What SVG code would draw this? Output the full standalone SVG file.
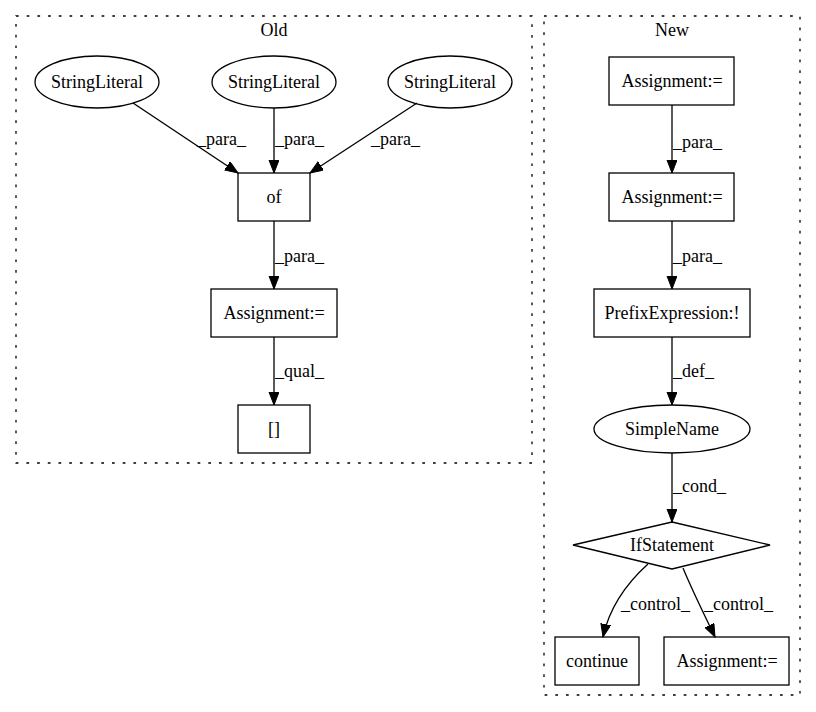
<svg xmlns="http://www.w3.org/2000/svg" width="816" height="712" viewBox="0 0 816 712">
<style>
text{font-family:"Liberation Serif","Times New Roman",serif;font-size:18px;fill:#000}
.n{fill:none;stroke:#000;stroke-width:1.3}
.c{fill:none;stroke:#000;stroke-width:1.3;stroke-dasharray:2.7,8}
.e{fill:none;stroke:#000;stroke-width:1.3;marker-end:url(#a)}
.m{text-anchor:middle}
</style>
<defs>
<marker id="a" markerUnits="userSpaceOnUse" markerWidth="14" markerHeight="12" refX="13" refY="5" orient="auto">
<path d="M0,0 L13,5 L0,10 z" fill="#000" stroke="#000" stroke-width="1"/>
</marker>
</defs>
<rect width="816" height="712" fill="#fff"/>
<g id="cluster_old">
<rect class="c" x="16" y="16" width="516" height="447"/>
<text class="m" x="274" y="36">Old</text>
</g>
<g id="cluster_new">
<rect class="c" x="544" y="16" width="256" height="679"/>
<text class="m" x="672" y="36">New</text>
</g>
<g id="edges">
<path class="e" d="M133,103 L238,173"/>
<text x="197" y="145">_para_</text>
<path class="e" d="M274,108 L274,173"/>
<text x="275" y="145">_para_</text>
<path class="e" d="M417,103 L310,173"/>
<text x="371" y="145">_para_</text>
<path class="e" d="M274,221 L274,289"/>
<text x="275" y="262">_para_</text>
<path class="e" d="M274,337 L274,405"/>
<text x="275" y="377">_qual_</text>
<path class="e" d="M672,105 L672,173"/>
<text x="673" y="148">_para_</text>
<path class="e" d="M672,221 L672,289"/>
<text x="673" y="262">_para_</text>
<path class="e" d="M672,337 L672,405"/>
<text x="673" y="377">_def_</text>
<path class="e" d="M672,453 L672,522"/>
<text x="673" y="492">_cond_</text>
<path class="e" d="M648,564 C628,582 610,605 603,637"/>
<text x="621" y="610">_control_</text>
<path class="e" d="M683,568 C692,590 703,612 715,637"/>
<text x="704" y="610">_control_</text>
</g>
<g id="n1"><ellipse class="n" cx="97" cy="82" rx="62" ry="26"/><text class="m" x="97" y="88">StringLiteral</text></g>
<g id="n2"><ellipse class="n" cx="274" cy="82" rx="62" ry="26"/><text class="m" x="274" y="88">StringLiteral</text></g>
<g id="n3"><ellipse class="n" cx="450" cy="82" rx="62" ry="26"/><text class="m" x="450" y="88">StringLiteral</text></g>
<g id="n4"><rect class="n" x="238" y="173" width="72" height="48"/><text class="m" x="274" y="203">of</text></g>
<g id="n5"><rect class="n" x="211" y="289" width="126" height="48"/><text class="m" x="274" y="319">Assignment:=</text></g>
<g id="n6"><rect class="n" x="238" y="405" width="72" height="48"/><text class="m" x="274" y="435">[]</text></g>
<g id="n7"><rect class="n" x="609" y="57" width="125" height="48"/><text class="m" x="672" y="87">Assignment:=</text></g>
<g id="n8"><rect class="n" x="609" y="173" width="125" height="48"/><text class="m" x="672" y="203">Assignment:=</text></g>
<g id="n9"><rect class="n" x="594" y="289" width="156" height="48"/><text class="m" x="672" y="319">PrefixExpression:!</text></g>
<g id="n10"><ellipse class="n" cx="672" cy="429" rx="78" ry="24"/><text class="m" x="672" y="435">SimpleName</text></g>
<g id="n11"><polygon class="n" points="672,522 770,545 672,569 573,545"/><text class="m" x="672" y="551">IfStatement</text></g>
<g id="n12"><rect class="n" x="555" y="637" width="84" height="48"/><text class="m" x="597" y="667">continue</text></g>
<g id="n13"><rect class="n" x="664" y="637" width="125" height="48"/><text class="m" x="727" y="667">Assignment:=</text></g>
</svg>
